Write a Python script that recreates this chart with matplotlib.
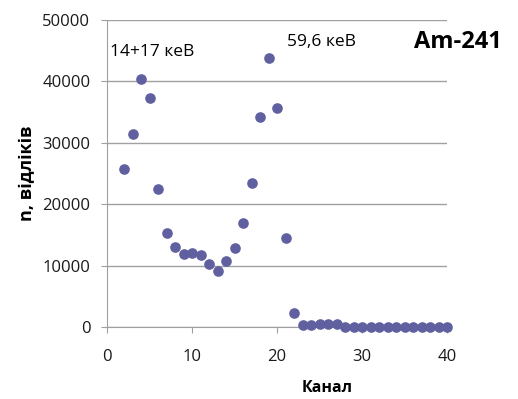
import matplotlib
matplotlib.use("Agg")
import matplotlib.pyplot as plt

channels = list(range(2, 41))
counts = [25800, 31500, 40400, 37300, 22500, 15300, 13100, 11900, 12100, 11700,
          10200, 9200, 10700, 12900, 16900, 23400, 34200, 43800, 35700, 14500,
          2300, 350, 400, 420, 420, 430, 80, 80, 70, 70, 70, 70, 70, 70, 70, 70,
          70, 70, 70]
x_ticks = [0, 10, 20, 30, 40]
y_ticks = [0, 10000, 20000, 30000, 40000, 50000]

plt.rcParams['font.family'] = ['Open Sans', 'DejaVu Sans']

fig = plt.figure(figsize=(5.18, 3.99), dpi=100)
ax = fig.add_axes([107/518, 1-327/399, 340/518, 307/399])

ax.set_xlim(0, 40)
ax.set_ylim(0, 50000)
ax.set_xticks(x_ticks)
ax.set_yticks(y_ticks)
ax.yaxis.grid(True, color='#a0a0a0', linewidth=1)
ax.set_axisbelow(True)
for s in ['top', 'right']:
    ax.spines[s].set_visible(False)
for s in ['left', 'bottom']:
    ax.spines[s].set_color('#a0a0a0')
ax.tick_params(axis='both', colors='#a0a0a0', labelcolor='#1a1a1a', labelsize=12,
               length=4, direction='out')
ax.tick_params(axis='x', pad=12)
ax.tick_params(axis='y', pad=8)

ax.scatter(channels, counts, s=44, color='#6060a0', zorder=3, clip_on=False)

fig.text(327/518, 1-388/399, 'Канал', fontsize=11.5, fontweight='bold',
         va='center', ha='center')
fig.text(27/518, 1-173/399, 'n, відліків', fontsize=13, fontweight='bold',
         va='center', ha='center', rotation=90)

fig.text(110/518, 1-52/399, '14+17 кеВ', fontsize=12.5, va='center', ha='left')
fig.text(287/518, 1-42/399, '59,6 кеВ', fontsize=12.5, va='center', ha='left')
fig.text(414/518, 1-42/399, 'Am-241', fontsize=17, fontweight='bold', va='center', ha='left')

fig.savefig('out.png', dpi=100)
